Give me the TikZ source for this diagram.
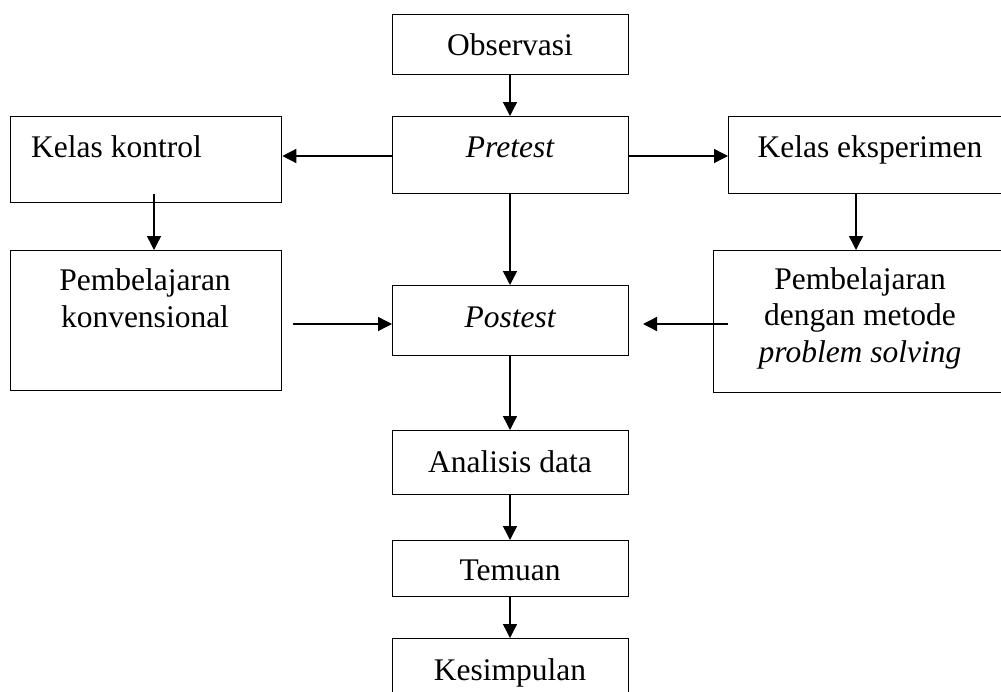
\documentclass[tikz,border=0pt]{standalone}
\usepackage{fontspec}
\setmainfont{Liberation Serif}
\usetikzlibrary{arrows.meta}
\begin{document}
\begin{tikzpicture}[x=1pt,y=-1pt,
  box/.style={draw,line width=1.3pt,rectangle,inner sep=0pt,anchor=north west},
  txt/.style={inner sep=0pt,anchor=base,align=center,font=\fontsize{31.5}{36.5}\selectfont},
  arr/.style={line width=1.4pt,-{Triangle[length=14pt,width=14pt]}}]
\useasboundingbox (0,0) rectangle (1001,691);
\clip (0,0) rectangle (1001,691);
% boxes
\node[box,minimum width=236pt,minimum height=60pt] (obs) at (392,14) {};
\node[box,minimum width=236pt,minimum height=77pt] (pre) at (392,116) {};
\node[box,minimum width=271pt,minimum height=86pt] (kk) at (10,116) {};
\node[box,minimum width=290pt,minimum height=77pt] (ke) at (728,116) {};
\node[box,minimum width=271pt,minimum height=140pt] (pk) at (10,250) {};
\node[box,minimum width=236pt,minimum height=70pt] (post) at (392,285) {};
\node[box,minimum width=305pt,minimum height=142pt] (pps) at (713,250) {};
\node[box,minimum width=236pt,minimum height=64pt] (ana) at (392,430) {};
\node[box,minimum width=236pt,minimum height=56pt] (tem) at (392,540) {};
\node[box,minimum width=236pt,minimum height=80pt] (kes) at (392,638) {};
% texts
\node[txt] (obs-t) at (510,55) {Observasi};
\node[txt] (pre-t) at (510,157) {\itshape Pretest};
\node[txt,anchor=base west] (kk-t) at (31,157) {Kelas kontrol};
\node[txt] (ke-t) at (870,157) {Kelas eksperimen};
\node[txt] (pk-t) at (145,327) {Pembelajaran\\konvensional};
\node[txt] (post-t) at (510,327) {\itshape Postest};
\node[txt] (pps-t) at (860,362) {Pembelajaran\\dengan metode\\\itshape problem solving};
\node[txt] (ana-t) at (510,472) {Analisis data};
\node[txt] (tem-t) at (510,580) {Temuan};
\node[txt] (kes-t) at (510,680) {Kesimpulan};
% connectors
\coordinate (kkstart) at (154,194);
\coordinate (pkout) at (293,324);
\coordinate (ppsout) at (728,324);
\coordinate (ppsend) at (643,324);
\draw[arr] (obs.south -| 510,0) -- (pre.north -| 510,0);
\draw[arr] (pre.west |- 0,156) -- (kk.east |- 0,156);
\draw[arr] (pre.east |- 0,156) -- (ke.west |- 0,156);
\draw[arr] (kkstart) -- (pk.north -| kkstart);
\draw[arr] (ke.south -| 856,0) -- (pps.north -| 856,0);
\draw[arr] (pre.south -| 510,0) -- (post.north -| 510,0);
\draw[arr] (pkout) -- (post.west |- pkout);
\draw[arr] (ppsout) -- (ppsend);
\draw[arr] (post.south -| 510,0) -- (ana.north -| 510,0);
\draw[arr] (ana.south -| 510,0) -- (tem.north -| 510,0);
\draw[arr] (tem.south -| 510,0) -- (kes.north -| 510,0);
\end{tikzpicture}
\end{document}
